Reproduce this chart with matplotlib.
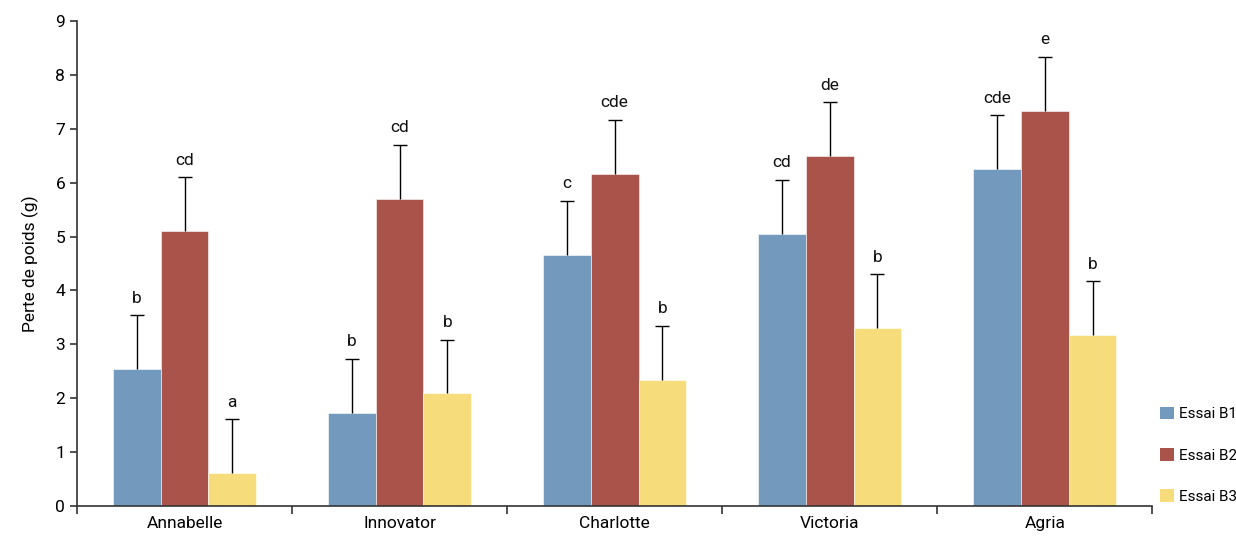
import matplotlib

matplotlib.use("Agg")
import matplotlib.pyplot as plt
import numpy as np
from matplotlib.patches import Patch

plt.rcParams["font.family"] = ["Roboto", "DejaVu Sans"]

varieties = ["Annabelle", "Innovator", "Charlotte", "Victoria", "Agria"]
series = ["Essai B1", "Essai B2", "Essai B3"]
b1 = [2.54, 1.73, 4.66, 5.05, 6.25]
b2 = [5.10, 5.70, 6.16, 6.49, 7.33]
b3 = [0.61, 2.10, 2.34, 3.30, 3.17]
err_b1 = [1.0, 1.0, 1.0, 1.0, 1.0]
err_b2 = [1.0, 1.0, 1.0, 1.0, 1.0]
err_b3 = [1.0, 0.98, 1.0, 1.0, 1.0]
letters_b1 = ["b", "b", "c", "cd", "cde"]
letters_b2 = ["cd", "cd", "cde", "de", "e"]
letters_b3 = ["a", "b", "b", "b", "b"]

COLORS = ["#7399BD", "#A9534B", "#F6DC7B"]
AXIS_COLOR = "#333333"
FS = 12.5

fig = plt.figure(figsize=(12.36, 5.39), dpi=100)
ax = fig.add_axes([0.0623, 0.0612, 0.8700, 0.8998])

x = np.arange(len(varieties))
width = 0.222
values = [b1, b2, b3]
errs = [err_b1, err_b2, err_b3]
letters = [letters_b1, letters_b2, letters_b3]

for i in range(3):
    pos = x + (i - 1) * width
    ax.bar(pos, values[i], width, color=COLORS[i], edgecolor="white", linewidth=0.4, zorder=2)
    _, caps, _ = ax.errorbar(
        pos,
        values[i],
        yerr=[np.zeros(len(varieties)), errs[i]],
        fmt="none",
        ecolor="black",
        elinewidth=1.0,
        capsize=5,
        capthick=1.0,
        zorder=3,
    )
    # hide the cap sitting on the bar top
    caps[0].set_visible(False)
    for p, v, e, lab in zip(pos, values[i], errs[i], letters[i]):
        ax.text(p, v + e + 0.18, lab, ha="center", va="bottom", fontsize=FS, color="#111111")

ax.set_xlim(-0.5, len(varieties) - 0.5)
ax.set_ylim(0, 9)
ax.set_yticks(np.arange(0, 10, 1))
ax.set_xticks(x)
ax.set_xticklabels(varieties)
ax.set_xticks(np.arange(-0.5, len(varieties), 1), minor=True)
ax.tick_params(axis="x", which="major", length=0, labelsize=FS, pad=7)
ax.tick_params(axis="x", which="minor", length=6, color=AXIS_COLOR, width=1.2)
ax.tick_params(axis="y", length=5, color=AXIS_COLOR, width=1.2, labelsize=FS, direction="out")

for side in ["top", "right"]:
    ax.spines[side].set_visible(False)
for side in ["left", "bottom"]:
    ax.spines[side].set_color(AXIS_COLOR)
    ax.spines[side].set_linewidth(1.2)

ax.set_ylabel("Perte de poids (g)", fontsize=FS, labelpad=12)

handles = [Patch(facecolor=c, edgecolor="none") for c in COLORS]
fig.legend(
    handles,
    series,
    loc="lower left",
    bbox_to_anchor=(0.9385, 0.065),
    frameon=False,
    borderpad=0,
    borderaxespad=0,
    fontsize=11,
    handlelength=0.9,
    handleheight=0.9,
    handletextpad=0.35,
    labelspacing=1.75,
)

fig.savefig("out.png", dpi=100)
